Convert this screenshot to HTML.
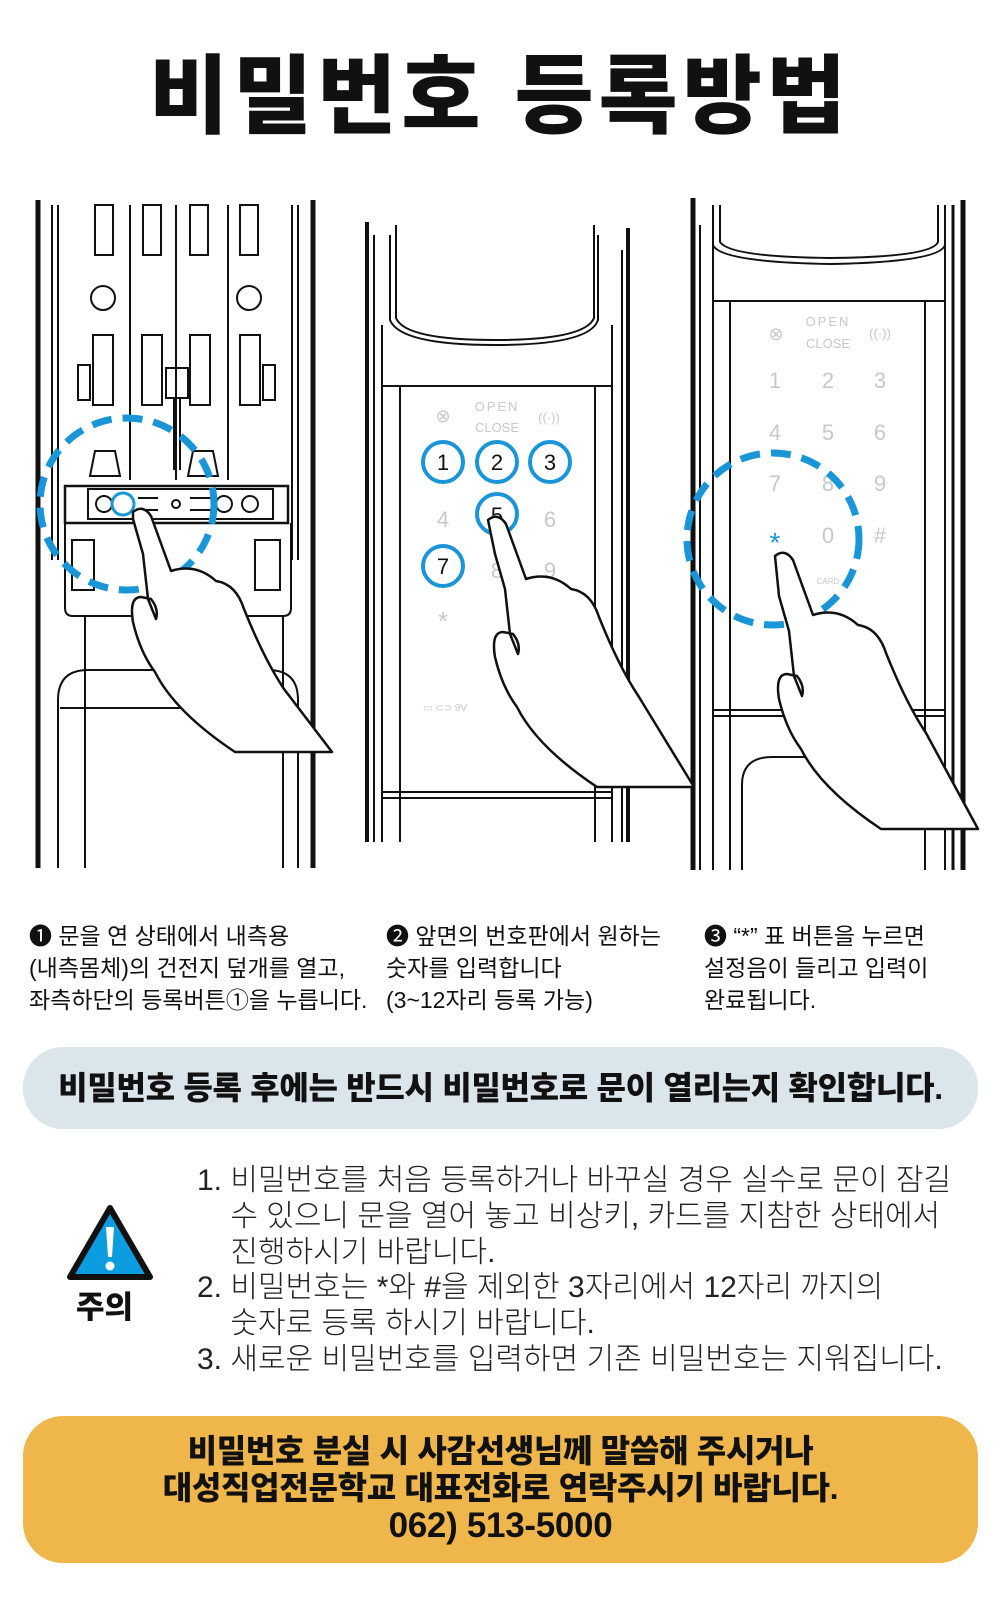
<!DOCTYPE html>
<html><head><meta charset="utf-8">
<style>
body{margin:0;background:#fff;}
#w{position:relative;width:1000px;height:1623px;overflow:hidden;background:#fff;font-family:"Liberation Sans","Noto Sans CJK KR",sans-serif;color:#111;}
.t{position:absolute;white-space:nowrap;}
.title{left:0;width:1000px;top:42px;text-align:center;font-size:86px;font-weight:900;letter-spacing:5px;line-height:110px;}
.cap{font-size:23px;line-height:32px;letter-spacing:0px;}
.pill{position:absolute;left:23px;top:1047px;width:955px;height:82px;border-radius:40px;background:#dbe5ec;text-align:center;line-height:82px;font-size:32px;font-weight:900;letter-spacing:-0.3px;}
.list{font-size:30px;line-height:35.8px;letter-spacing:0px;font-weight:300;color:#222;}
.yb{position:absolute;left:23px;top:1416px;width:955px;height:147px;border-radius:40px;background:#efb64b;text-align:center;font-size:32px;font-weight:900;line-height:37px;letter-spacing:-0.3px;padding-top:17px;box-sizing:border-box;}
</style></head><body><div id="w">
<div class="t title">비밀번호 등록방법</div>

<svg class="t" style="left:0;top:0" width="1000" height="900" viewBox="0 0 1000 900">
<g fill="none" stroke="#111" stroke-width="2">
<line x1="38" y1="200" x2="38" y2="868" stroke-width="5"/>
<line x1="313" y1="200" x2="313" y2="868" stroke-width="5"/>
<line x1="52" y1="205" x2="52" y2="560"/><line x1="58" y1="205" x2="58" y2="560"/>
<line x1="292" y1="205" x2="292" y2="560"/><line x1="298" y1="205" x2="298" y2="560"/>
<line x1="130" y1="205" x2="130" y2="480"/><line x1="176" y1="205" x2="176" y2="480"/><line x1="228" y1="205" x2="228" y2="480"/>
<rect x="95" y="205" width="18" height="50"/><rect x="143" y="205" width="18" height="50"/><rect x="190" y="205" width="18" height="50"/><rect x="240" y="205" width="18" height="50"/>
<circle cx="103" cy="298" r="12"/><circle cx="249" cy="298" r="12"/>
<rect x="93" y="335" width="20" height="70"/><rect x="142" y="335" width="20" height="70"/><rect x="190" y="335" width="20" height="70"/><rect x="240" y="335" width="20" height="70"/>
<rect x="166" y="368" width="22" height="30"/><line x1="174" y1="398" x2="174" y2="470"/><line x1="180" y1="398" x2="180" y2="470"/>
<rect x="78" y="365" width="12" height="35"/><rect x="263" y="365" width="12" height="35"/>
<path d="M90 476 l5-25 h20 l5 25z"/><path d="M188 476 l5-25 h20 l5 25z"/>
<rect x="65" y="486" width="223" height="37" stroke-width="2.5"/>
<rect x="88" y="489" width="185" height="30"/>
<circle cx="104" cy="504" r="8"/><circle cx="250" cy="504" r="8"/><circle cx="176" cy="504" r="4"/>
<circle cx="123" cy="504" r="11" stroke="#1a96d8" stroke-width="3"/>
<line x1="138" y1="498" x2="158" y2="498"/><line x1="138" y1="510" x2="158" y2="510"/>
<line x1="190" y1="498" x2="215" y2="498"/><line x1="190" y1="510" x2="215" y2="510"/><circle cx="224" cy="504" r="8"/>
<path d="M65 523 v85 q0 8 8 8 h210 q8 0 8-8 v-85"/>
<rect x="72" y="540" width="22" height="50"/><rect x="255" y="540" width="25" height="50"/>
<line x1="85" y1="616" x2="85" y2="868"/><line x1="283" y1="616" x2="283" y2="868"/>
<path d="M58 868 V700 q0-30 30-30 h180 q30 0 30 30 V868"/>
<line x1="60" y1="708" x2="298" y2="708"/>
<line x1="367" y1="222" x2="367" y2="842" stroke-width="4"/>
<line x1="374" y1="235" x2="374" y2="842"/>
<path d="M390 235 V320 Q400 345 495 345 Q590 345 598 320 V235"/>
<path d="M396 225 V318 Q405 340 495 340 Q585 340 594 318 V225"/>
<line x1="382" y1="325" x2="382" y2="842"/><line x1="612" y1="325" x2="612" y2="842"/>
<line x1="382" y1="386" x2="612" y2="386"/>
<line x1="400" y1="386" x2="400" y2="842"/><line x1="595" y1="386" x2="595" y2="842"/>
<line x1="382" y1="792" x2="612" y2="792"/><line x1="382" y1="798" x2="612" y2="798"/>
<line x1="628" y1="228" x2="628" y2="842" stroke-width="4"/><line x1="622" y1="250" x2="622" y2="842"/>
<line x1="693" y1="198" x2="693" y2="870" stroke-width="5"/>
<line x1="700" y1="225" x2="700" y2="870"/>
<path d="M713 205 V245 Q720 262 830 264 Q940 262 945 245 V205"/>
<path d="M720 205 V242 Q730 257 830 258 Q932 257 938 242 V205"/>
<line x1="713" y1="245" x2="713" y2="870"/><line x1="945" y1="245" x2="945" y2="870"/>
<line x1="713" y1="301" x2="945" y2="301"/>
<line x1="730" y1="301" x2="730" y2="870"/><line x1="925" y1="301" x2="925" y2="870"/>
<line x1="713" y1="710" x2="945" y2="710"/><line x1="713" y1="716" x2="945" y2="716"/>
<line x1="953" y1="205" x2="953" y2="870" stroke-width="3"/><line x1="963" y1="200" x2="963" y2="870" stroke-width="5"/>
<path d="M742 870 V785 q0-28 30-28 h60"/>
</g>
<g font-family="Liberation Sans,sans-serif" fill="#c8c8c8" text-anchor="middle">
<text x="497" y="411" font-size="13" letter-spacing="2">OPEN</text><text x="497" y="432" font-size="13">CLOSE</text>
<text x="443" y="422" font-size="18">⊗</text><text x="549" y="422" font-size="13">((·))</text>
<text x="443" y="527" font-size="22">4</text><text x="550" y="527" font-size="22">6</text>
<text x="497" y="578" font-size="22">8</text><text x="550" y="578" font-size="22">9</text>
<text x="443" y="630" font-size="26">*</text>
<text x="445" y="711" font-size="10">▭ ⊂⊃ 9V</text>
<text x="828" y="326" font-size="13" letter-spacing="2">OPEN</text><text x="828" y="348" font-size="13">CLOSE</text>
<text x="776" y="340" font-size="18">⊗</text><text x="880" y="338" font-size="13">((·))</text>
<text x="775" y="388" font-size="22">1</text><text x="828" y="388" font-size="22">2</text><text x="880" y="388" font-size="22">3</text>
<text x="775" y="440" font-size="22">4</text><text x="828" y="440" font-size="22">5</text><text x="880" y="440" font-size="22">6</text>
<text x="775" y="491" font-size="22">7</text><text x="828" y="491" font-size="22">8</text><text x="880" y="491" font-size="22">9</text>
<text x="828" y="543" font-size="22">0</text><text x="880" y="543" font-size="22">#</text>
<text x="828" y="584" font-size="8">CARD</text>
</g>
<text x="775" y="552" font-size="28" fill="#1a96d8" text-anchor="middle" font-family="Liberation Sans,sans-serif">*</text>
<g font-family="Liberation Sans,sans-serif" font-size="22" fill="#111" text-anchor="middle">
<text x="443" y="470">1</text><text x="497" y="470">2</text><text x="550" y="470">3</text>
<text x="497" y="523">5</text><text x="443" y="574">7</text>
</g>
<g fill="none" stroke="#1a96d8" stroke-width="4">
<circle cx="443" cy="462" r="20"/><circle cx="497" cy="462" r="20"/><circle cx="550" cy="462" r="20"/>
<circle cx="497" cy="514" r="20"/><circle cx="443" cy="566" r="20"/>
</g>
<g fill="none" stroke="#1a96d8" stroke-width="7" stroke-dasharray="20 11">
<ellipse cx="127" cy="504" rx="87" ry="86"/>
<ellipse cx="773" cy="539" rx="86" ry="86"/>
</g>
<g fill="#fff" stroke="#111" stroke-width="2.5" stroke-linejoin="round">
<path d="M133 512 q10-8 18 4 l20 55 q25-8 45 10 q20 3 28 28 q20 50 40 80 l48 63 h-97 q-60-40-80-80 q-15-20-22-50 q-4-25 8-25 l10 2 q8 10 5 20 l-8-20 -5-45 -10-35z"/>
<path d="M488 520 q10-8 18 4 l20 55 q25-8 45 10 q20 3 28 28 q20 50 40 80 l55 90 h-97 q-60-40-80-80 q-15-20-22-50 q-4-25 8-25 l10 2 q8 10 5 20 l-8-20 -5-45 -10-35z"/>
<path d="M775 556 q10-8 18 4 l20 55 q25-8 45 10 q20 3 28 28 q20 50 40 80 l52 96 h-97 q-60-40-80-80 q-15-20-22-50 q-4-25 8-25 l10 2 q8 10 5 20 l-8-20 -5-45 -10-35z"/>
</g>
</svg>

<div class="t cap" style="left:29px;top:920px;">❶ 문을 연 상태에서 내측용<br>(내측몸체)의 건전지 덮개를 열고,<br>좌측하단의 등록버튼①을 누릅니다.</div>
<div class="t cap" style="left:386px;top:920px;">❷ 앞면의 번호판에서 원하는<br>숫자를 입력합니다<br>(3~12자리 등록 가능)</div>
<div class="t cap" style="left:704px;top:920px;">❸ “*” 표 버튼을 누르면<br>설정음이 들리고 입력이<br>완료됩니다.</div>

<div class="pill">비밀번호 등록 후에는 반드시 비밀번호로 문이 열리는지 확인합니다.</div>

<svg class="t" style="left:64px;top:1203px" width="92" height="82" viewBox="0 0 92 82">
<path d="M46 5 L86 74 H6 Z" fill="#0b9de0" stroke="#111" stroke-width="6" stroke-linejoin="round"/>
<path d="M42 24 h8 l-2 30 h-4z" fill="#fff"/><circle cx="46" cy="63" r="4.5" fill="#fff"/>
</svg>
<div class="t" style="left:76px;top:1282px;font-size:31px;font-weight:900;">주의</div>

<div class="t list" style="left:197px;top:1163px;">1. 비밀번호를 처음 등록하거나 바꾸실 경우 실수로 문이 잠길<br>&nbsp;&nbsp;&nbsp;&nbsp;수 있으니 문을 열어 놓고 비상키, 카드를 지참한 상태에서<br>&nbsp;&nbsp;&nbsp;&nbsp;진행하시기 바랍니다.<br>2. 비밀번호는 *와 #을 제외한 3자리에서 12자리 까지의<br>&nbsp;&nbsp;&nbsp;&nbsp;숫자로 등록 하시기 바랍니다.<br>3. 새로운 비밀번호를 입력하면 기존 비밀번호는 지워집니다.</div>

<div class="yb">비밀번호 분실 시 사감선생님께 말씀해 주시거나<br>대성직업전문학교 대표전화로 연락주시기 바랍니다.<br><span style="font-size:35px">062) 513-5000</span></div>
</div></body></html>
